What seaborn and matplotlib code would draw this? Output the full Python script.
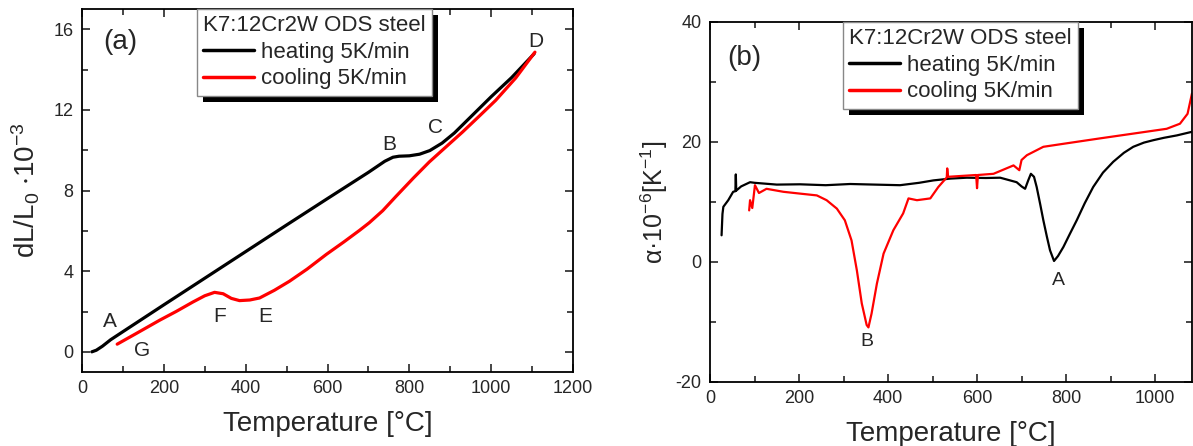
import numpy as np
import matplotlib
matplotlib.use('Agg')
import matplotlib.pyplot as plt
import seaborn as sns
from matplotlib.patches import Rectangle
from matplotlib.ticker import MultipleLocator
from matplotlib.transforms import IdentityTransform

# (a) dilatation curves
temp_heat_a = [24, 35, 50, 70, 100, 200, 300, 400, 500, 600, 700, 740, 760, 775, 800, 825,
               850, 880, 910, 950, 1000, 1050, 1105]
dl_heat = [0.0, 0.08, 0.28, 0.6, 1.0, 2.33, 3.65, 4.97, 6.29, 7.6, 8.9, 9.45, 9.65, 9.7, 9.72,
           9.8, 9.98, 10.35, 10.85, 11.65, 12.65, 13.6, 14.78]
temp_cool_a = [86, 130, 190, 230, 271, 300, 324, 345, 365, 385, 410, 434, 470, 507, 550, 597,
               640, 678, 702, 735, 767, 810, 849, 890, 930, 970, 1011, 1060, 1107]
dl_cool = [0.38, 0.88, 1.57, 2.0, 2.47, 2.78, 2.95, 2.88, 2.65, 2.54, 2.57, 2.67, 3.05, 3.5, 4.1,
           4.83, 5.45, 6.02, 6.4, 7.0, 7.7, 8.62, 9.42, 10.17, 10.9, 11.67, 12.47, 13.58, 14.86]
labels_a = ['A', 'B', 'C', 'D', 'E', 'F', 'G']
labels_a_x = [68, 750, 863, 1109, 449, 337, 146]
labels_a_y = [1.5, 10.3, 11.1, 15.4, 1.76, 1.76, 0.05]

# (b) expansion coefficient
temp_heat_b = [26, 28, 30, 41, 52, 57, 58, 59, 70, 90, 100, 150, 202, 260, 315, 370, 427, 470,
               502, 540, 577, 620, 652, 689, 700, 708, 715, 721, 728, 734, 742, 749, 757, 764,
               773, 782, 794, 808, 824, 842, 861, 883, 906, 930, 951, 975, 996, 1020, 1049, 1083]
alpha_heat = [4.45, 8.0, 9.2, 10.3, 11.7, 11.8, 14.6, 11.9, 12.6, 13.3, 13.2, 12.9, 12.95, 12.8,
              13.0, 12.9, 12.8, 13.2, 13.6, 13.9, 14.05, 14.0, 14.05, 13.3, 12.6, 12.2, 13.6,
              14.7, 14.2, 12.5, 9.6, 6.95, 4.2, 1.95, 0.17, 1.0, 2.5, 4.6, 6.95, 9.8, 12.5, 14.9,
              16.7, 18.2, 19.2, 19.9, 20.3, 20.7, 21.1, 21.7]
temp_cool_b = [88, 90, 95, 101, 110, 127, 165, 202, 240, 262, 285, 303, 318, 330, 341, 352, 356,
               363, 375, 390, 412, 434, 446, 465, 495, 513, 532, 533, 535, 577, 598, 600, 602,
               637, 682, 695, 700, 712, 749, 794, 876, 951, 1026, 1056, 1073, 1083]
alpha_cool = [8.6, 10.3, 9.0, 12.8, 11.5, 12.2, 11.7, 11.4, 11.1, 10.3, 8.9, 6.95, 3.6, -1.4,
              -6.9, -10.5, -10.9, -8.6, -3.6, 1.4, 5.3, 8.1, 10.6, 10.3, 10.6, 12.5, 14.1, 15.6,
              14.2, 14.4, 14.5, 12.3, 14.5, 14.7, 16.1, 15.3, 17.0, 17.8, 19.2, 19.7, 20.6, 21.4,
              22.2, 23.05, 24.7, 28.1]
labels_b = ['B', 'A']
labels_b_x = [352, 782]
labels_b_y = [-13.3, -3.05]

legend_title = 'K7:12Cr2W ODS steel'
heat_label = 'heating 5K/min'
cool_label = 'cooling 5K/min'

sns.set_style('ticks')
plt.rcParams['font.family'] = ['Liberation Sans', 'DejaVu Sans']
plt.rcParams['mathtext.default'] = 'regular'
plt.rcParams['axes.unicode_minus'] = False

fig = plt.figure(figsize=(11.93, 4.46), dpi=100)
ax1 = fig.add_axes([82 / 1193, 74 / 446, 491 / 1193, 363 / 446])
ax2 = fig.add_axes([710 / 1193, 64 / 446, 482 / 1193, 360 / 446])

sns.lineplot(x=temp_heat_a, y=dl_heat, ax=ax1, color='black', lw=2.3, label=heat_label)
sns.lineplot(x=temp_cool_a, y=dl_cool, ax=ax1, color='#ff0000', lw=2.3, label=cool_label)
sns.lineplot(x=temp_heat_b, y=alpha_heat, ax=ax2, color='black', lw=1.6, label=heat_label)
sns.lineplot(x=temp_cool_b, y=alpha_cool, ax=ax2, color='#ff0000', lw=1.6, label=cool_label)

ax1.set_xlim(0, 1200)
ax1.set_ylim(-1, 17)
ax1.xaxis.set_major_locator(MultipleLocator(200))
ax1.xaxis.set_minor_locator(MultipleLocator(100))
ax1.yaxis.set_major_locator(MultipleLocator(4))
ax1.yaxis.set_minor_locator(MultipleLocator(2))

ax2.set_xlim(0, 1083)
ax2.set_ylim(-20, 40)
ax2.xaxis.set_major_locator(MultipleLocator(200))
ax2.xaxis.set_minor_locator(MultipleLocator(100))
ax2.yaxis.set_major_locator(MultipleLocator(20))
ax2.yaxis.set_minor_locator(MultipleLocator(10))

for ax in (ax1, ax2):
    ax.tick_params(which='both', direction='in', top=True, right=True, width=1.2,
                   labelsize=13, pad=6)
    ax.tick_params(which='major', length=6)
    ax.tick_params(which='minor', length=4)
    for sp in ax.spines.values():
        sp.set_linewidth(1.3)
        sp.set_color('black')
    ax.set_xlabel('Temperature [°C]', fontsize=20, labelpad=10)

ax1.set_ylabel('dL/L$_0$ $\\cdot$10$^{-3}$', fontsize=20, labelpad=8)
ax2.set_ylabel('α·10$^{-6}$[K$^{-1}$]', fontsize=18, labelpad=4)

for t, x, y in zip(labels_a, labels_a_x, labels_a_y):
    ax1.text(x, y, t, fontsize=15, ha='center', va='center')
for t, x, y in zip(labels_b, labels_b_x, labels_b_y):
    ax2.text(x, y, t, fontsize=14, ha='center', va='center')
ax1.text(93, 15.35, '(a)', fontsize=20, ha='center', va='center')
ax2.text(76, 34, '(b)', fontsize=20, ha='center', va='center')

legs = []
for ax, x0 in ((ax1, (197 - 82) / 491), (ax2, (843 - 710) / 482)):
    leg = ax.legend(title=legend_title, loc='upper left', bbox_to_anchor=(x0, 1.0),
                    frameon=True, fancybox=False, edgecolor='#888888', framealpha=1,
                    fontsize=16, title_fontsize=16, alignment='left', handlelength=2.3,
                    handletextpad=0.3, borderpad=0.28, labelspacing=0.25, borderaxespad=0)
    leg.get_frame().set_linewidth(1.0)
    for line in leg.get_lines():
        line.set_linewidth(2.5)
    legs.append((ax, leg))

fig.canvas.draw()
renderer = fig.canvas.get_renderer()
for ax, leg in legs:
    bb = leg.get_window_extent(renderer)
    shadow = Rectangle((bb.x0 + 6, bb.y0 - 6), bb.width, bb.height, transform=IdentityTransform(),
                       facecolor='black', edgecolor='none', zorder=4.5, clip_on=False)
    ax.add_artist(shadow)

fig.savefig('out.png', dpi=100, facecolor='white')
